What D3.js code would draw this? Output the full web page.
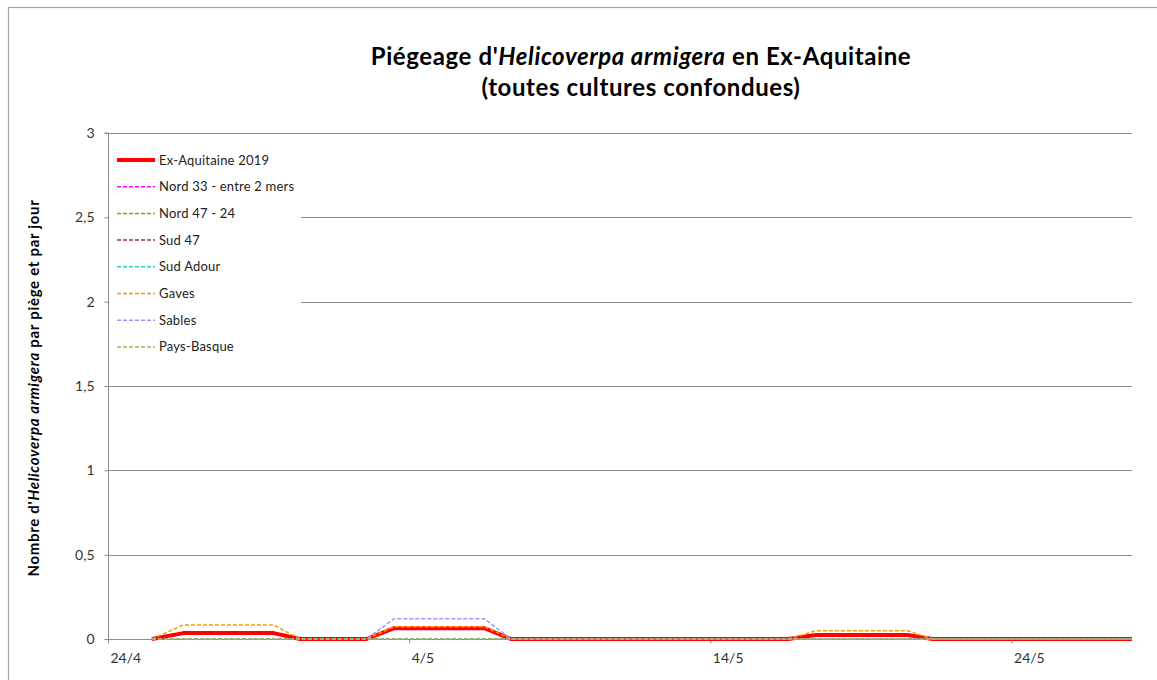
<!DOCTYPE html>
<html>
<head>
<meta charset="utf-8">
<script src="https://cdn.jsdelivr.net/npm/d3@7"></script>
<style>
  html, body { margin: 0; padding: 0; background: #fff; }
  svg { display: block; font-family: Lato, "Open Sans", sans-serif; }
</style>
</head>
<body>
<svg id="chart" width="1157" height="680"></svg>
<script>
// ---- data ----
const dates = ["2019-04-25T11:00", "2019-04-26T12:00", "2019-04-29T12:00", "2019-04-30T09:00",
               "2019-05-02T14:00", "2019-05-03T12:00", "2019-05-06T12:00", "2019-05-07T09:00",
               "2019-05-16T14:00", "2019-05-17T12:00", "2019-05-20T13:00", "2019-05-21T09:00",
               "2019-05-28T00:00"];
const seriesNames = ["Ex-Aquitaine 2019", "Nord 33 - entre 2 mers", "Nord 47 - 24", "Sud 47",
                     "Sud Adour", "Gaves", "Sables", "Pays-Basque"];
const exAquitaine = [0, 0.035, 0.035, 0, 0, 0.064, 0.064, 0, 0, 0.024, 0.024, 0, 0];
const nord33      = [0, 0, 0, 0, 0, 0, 0, 0, 0, 0, 0, 0, 0];
const nord47      = [0, 0, 0, 0, 0, 0, 0, 0, 0, 0, 0, 0, 0];
const sud47       = [0, 0, 0, 0, 0, 0, 0, 0, 0, 0, 0, 0, 0];
const sudAdour    = [0, 0, 0, 0, 0, 0, 0, 0, 0, 0, 0, 0, 0];
const gaves       = [0, 0.083, 0.083, 0, 0, 0.073, 0.073, 0, 0, 0.049, 0.049, 0, 0];
const sables      = [0, 0, 0, 0, 0, 0.12, 0.12, 0, 0, 0, 0, 0, 0];
const paysBasque  = [0, 0, 0, 0, 0, 0, 0, 0, 0, 0, 0, 0, 0];
const yTicks = [0, 0.5, 1, 1.5, 2, 2.5, 3];
const xTickDates = ["2019-04-24", "2019-05-04", "2019-05-14", "2019-05-24"];
const xTickLabels = ["24/4", "4/5", "14/5", "24/5"];

// ---- styling ----
const seriesValues = [exAquitaine, nord33, nord47, sud47, sudAdour, gaves, sables, paysBasque];
const colors = ["#ff0000", "#ff00ff", "#999900", "#993366", "#33cccc", "#ff9900", "#9999ff", "#99bb55"];

const svg = d3.select("#chart");
const parse = d3.timeParse("%Y-%m-%dT%H:%M");
const parseDay = d3.timeParse("%Y-%m-%d");
const pLeft = 108, pRight = 1132, pTop = 133, pBottom = 639;

const x = d3.scaleTime()
  .domain([parseDay("2019-04-24"), parseDay("2019-05-28")])
  .range([pLeft, pRight]);
const y = d3.scaleLinear().domain([0, 3]).range([pBottom, pTop]);

// outer border
svg.append("rect").attr("x", 8.5).attr("y", 7.5).attr("width", 1170).attr("height", 700)
  .attr("fill", "none").attr("stroke", "#a6a6a6").attr("stroke-width", 1.2);

// gridlines
svg.append("g").selectAll("line").data(yTicks.filter(d => d > 0)).join("line")
  .attr("x1", pLeft).attr("x2", pRight)
  .attr("y1", d => Math.round(y(d)) + 0.5).attr("y2", d => Math.round(y(d)) + 0.5)
  .attr("stroke", "#8c8c8c").attr("stroke-width", 1);

// y axis
const yAxis = d3.axisLeft(y).tickValues(yTicks).tickSize(4).tickPadding(10)
  .tickFormat(d => String(d).replace(".", ","));
const gy = svg.append("g").attr("transform", `translate(${pLeft + 0.5},0)`).call(yAxis);
gy.select(".domain").attr("stroke", "#8c8c8c").attr("d", `M-4,${pTop}H0V${pBottom}`);
gy.selectAll(".tick line").attr("stroke", "#8c8c8c");
gy.selectAll(".tick text").attr("fill", "#333").style("font-size", "14px")
  .style("font-family", "Lato, sans-serif");

// x axis
const xAxis = d3.axisBottom(x).tickValues(xTickDates.map(parseDay)).tickSize(4)
  .tickFormat((d, i) => xTickLabels[i]);
const gx = svg.append("g").attr("transform", `translate(0,${pBottom + 0.5})`).call(xAxis);
gx.select(".domain").attr("stroke", "#8c8c8c").attr("d", `M${pLeft},0H${pRight}`);
gx.selectAll(".tick line").attr("stroke", "#8c8c8c");
gx.selectAll(".tick text").attr("fill", "#333").style("font-size", "14px")
  .style("font-family", "Lato, sans-serif")
  .attr("text-anchor", "start").attr("dx", 2).attr("y", 14);

// lines
const line = d3.line().x(d => x(d[0])).y(d => y(d[1]));
const parsedDates = dates.map(parse);
seriesValues.forEach((vals, i) => {
  const pts = vals.map((v, j) => [parsedDates[j], v]);
  svg.append("path").datum(pts)
    .attr("d", line)
    .attr("fill", "none")
    .attr("stroke", colors[i])
    .attr("stroke-width", i === 0 ? 4 : 1.5)
    .attr("stroke-dasharray", i === 0 ? null : "4,2")
    .attr("stroke-linejoin", "round");
});

// legend
const lg = svg.append("g");
lg.append("rect").attr("x", pLeft + 1).attr("y", 145).attr("width", 192).attr("height", 215).attr("fill", "#fff");
seriesNames.forEach((name, i) => {
  const yy = 160 + i * 26.7;
  lg.append("line").attr("x1", 117).attr("x2", 155).attr("y1", yy).attr("y2", yy)
    .attr("stroke", colors[i]).attr("stroke-width", i === 0 ? 4 : 1.5)
    .attr("stroke-dasharray", i === 0 ? null : "4,2");
  lg.append("text").attr("x", 159).attr("y", yy + 4.5).text(name)
    .attr("fill", "#222").style("font-size", "13px").style("letter-spacing", "0.2px");
});

// title
const title = svg.append("text").attr("x", 641).attr("y", 65).attr("text-anchor", "middle")
  .style("font-size", "24px").style("font-weight", "bold").style("letter-spacing", "0.6px").attr("fill", "#000");
title.append("tspan").text("Piégeage d'");
title.append("tspan").text("Helicoverpa armigera").style("font-style", "italic");
title.append("tspan").text(" en Ex-Aquitaine");
svg.append("text").attr("x", 641).attr("y", 96).attr("text-anchor", "middle")
  .style("font-size", "24px").style("font-weight", "bold").style("letter-spacing", "0.6px").attr("fill", "#000")
  .text("(toutes cultures confondues)");

// y axis title
const yt = svg.append("text").attr("transform", "translate(39,388) rotate(-90)")
  .attr("text-anchor", "middle").style("font-size", "15px").style("font-weight", "bold")
  .style("letter-spacing", "0.7px").attr("fill", "#000");
yt.append("tspan").text("Nombre d'");
yt.append("tspan").text("Helicoverpa armigera").style("font-style", "italic");
yt.append("tspan").text(" par piège et par jour");
</script>
</body>
</html>
